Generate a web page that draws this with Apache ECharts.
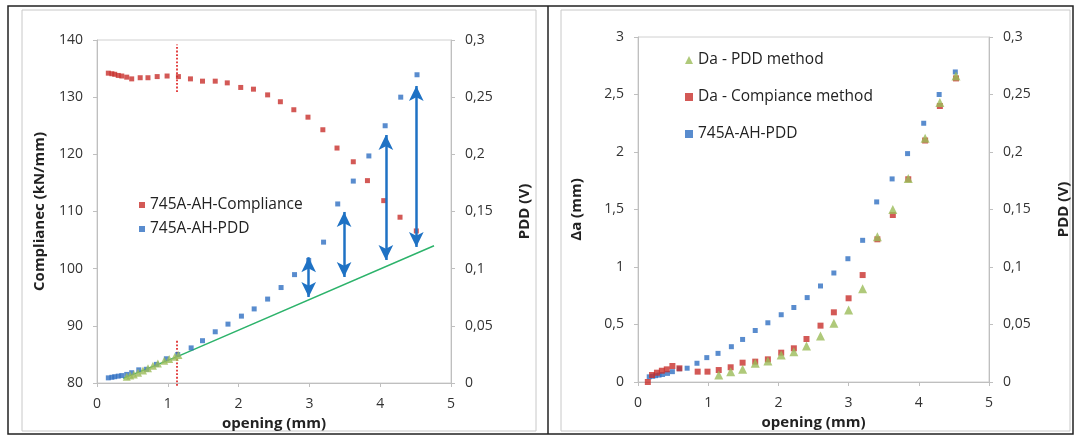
<!DOCTYPE html>
<html><head><meta charset="utf-8">
<script src="https://cdn.jsdelivr.net/npm/echarts@6/dist/echarts.min.js"></script>
<style>html,body{margin:0;padding:0;background:#fff}#c{width:1075px;height:436px}</style>
</head><body><div id="c"></div>
<script>
// ---- data (left chart) ----
const complX = [0.16,0.21,0.25,0.30,0.35,0.42,0.49,0.61,0.72,0.85,0.99,1.15,1.32,1.49,1.67,1.84,2.03,2.21,2.41,2.59,2.78,2.98,3.19,3.39,3.62,3.82,4.05,4.28,4.51];
const complY = [134.2,134.1,134.0,133.8,133.7,133.5,133.2,133.4,133.4,133.6,133.7,133.6,133.2,132.8,132.8,132.5,131.7,131.4,130.4,129.2,127.8,126.5,124.3,121.1,118.7,115.4,111.9,109.0,106.6];
// 745A-AH-PDD (shared by both charts, PDD in V)
const pddX = [0.16,0.21,0.25,0.30,0.35,0.42,0.49,0.59,0.70,0.84,0.98,1.14,1.33,1.49,1.67,1.85,2.04,2.22,2.41,2.60,2.79,2.99,3.20,3.40,3.62,3.84,4.07,4.29,4.52];
const pddY = [0.0045,0.005,0.0055,0.006,0.0065,0.0075,0.009,0.0115,0.012,0.0163,0.0212,0.0249,0.0307,0.037,0.0448,0.0515,0.0585,0.0648,0.0734,0.0835,0.0948,0.1072,0.1232,0.1566,0.1766,0.1986,0.225,0.25,0.2696];
const triLX = [0.42,0.47,0.52,0.58,0.65,0.72,0.79,0.86,0.95,1.02,1.10,1.15];
const triLY = [0.0055,0.0065,0.0075,0.009,0.011,0.013,0.015,0.017,0.0195,0.021,0.023,0.0245];
const fitX = [0.37,1.15,4.76];
const fitY = [0.004,0.0235,0.12];
const cutX = 1.13;
const cutUpper = [130.9,139.2];
const cutLower = [79.5,87.5];
const arrowX = [2.99,3.49,4.08,4.51];
const arrowTop = [0.110,0.1496,0.2169,0.2598];
const arrowBottom = [0.0752,0.0927,0.1076,0.119];
// ---- data (right chart) ----
const daPddX = [1.15,1.32,1.49,1.67,1.85,2.04,2.22,2.40,2.60,2.79,3.00,3.20,3.41,3.63,3.85,4.09,4.30,4.53];
const daPddY = [0.061,0.090,0.110,0.163,0.183,0.235,0.263,0.313,0.40,0.51,0.626,0.81,1.264,1.50,1.77,2.12,2.43,2.66];
const daCompX = [0.14,0.20,0.27,0.34,0.41,0.49,0.59,0.85,0.99,1.15,1.32,1.49,1.67,1.85,2.04,2.22,2.40,2.60,2.79,3.00,3.20,3.41,3.63,3.85,4.09,4.30,4.53];
const daCompY = [0.0,0.061,0.081,0.098,0.110,0.139,0.119,0.090,0.090,0.104,0.128,0.168,0.177,0.197,0.255,0.293,0.374,0.490,0.606,0.728,0.930,1.241,1.452,1.763,2.10,2.40,2.64];

const zip = (a,b) => a.map((v,i)=>[v,b[i]]);
const comma = v => String(+(+v).toFixed(3)).replace('.', ',');
const FONT = 'Open Sans';
const RED = '#c8302c', BLUE = '#2f6fc2', GREEN = '#9bbb59', ARROW = '#1f72c4', LINEG = '#2db36b';

const axisCommon = {
  axisLine:{show:true,lineStyle:{color:'#bfbfbf'}},
  axisTick:{show:true,inside:false,length:4,lineStyle:{color:'#bfbfbf'}},
  splitLine:{show:false},
  axisLabel:{color:'#333',fontFamily:FONT,fontSize:14,formatter:comma},
  nameTextStyle:{color:'#222',fontFamily:FONT,fontSize:15,fontWeight:'bold'}
};
function xa(grid){return Object.assign({},axisCommon,{type:'value',gridIndex:grid,min:0,max:5,interval:1,
  name:'opening (mm)',nameLocation:'middle',nameGap:33,axisLabel:Object.assign({},axisCommon.axisLabel,{margin:14})});}
function ya(grid,pos,min,max,intv,name,gap){return Object.assign({},axisCommon,{type:'value',gridIndex:grid,position:pos,min:min,max:max,interval:intv,
  name:name,nameLocation:'middle',nameGap:gap,nameRotate:90,axisLabel:Object.assign({},axisCommon.axisLabel,{margin:14})});}

const chart = echarts.init(document.getElementById('c'),null,{renderer:'canvas'});
chart.setOption({
  animation:false,
  backgroundColor:'#fff',
  graphic:[
    {type:'rect',shape:{x:8,y:6,width:1065,height:428},style:{fill:'none',stroke:'#222',lineWidth:1.5},z:-1},
    {type:'line',shape:{x1:548,y1:6,x2:548,y2:434},style:{stroke:'#222',lineWidth:1.5},z:-1},
    {type:'rect',shape:{x:22,y:10,width:514,height:421},style:{fill:'none',stroke:'#c8c8c8',lineWidth:1},z:-1},
    {type:'rect',shape:{x:561,y:10,width:509,height:421},style:{fill:'none',stroke:'#c8c8c8',lineWidth:1},z:-1}
  ],
  grid:[
    {left:97,right:624,top:40,bottom:53,show:true,borderColor:'#d0d0d0',borderWidth:1},
    {left:638,right:86,top:37,bottom:54,show:true,borderColor:'#d0d0d0',borderWidth:1}
  ],
  xAxis:[xa(0),xa(1)],
  yAxis:[
    ya(0,'left',80,140,10,'Complianec (kN/mm)',50),
    ya(0,'right',0,0.3,0.05,'PDD (V)',66),
    ya(1,'left',0,3,0.5,'Δa (mm)',54),
    ya(1,'right',0,0.3,0.05,'PDD (V)',67)
  ],
  legend:[
    {orient:'vertical',left:134,top:192,itemGap:8,itemWidth:6,itemHeight:6,icon:'rect',
     textStyle:{fontFamily:FONT,fontSize:15.5,color:'#222'},data:['745A-AH-Compliance','745A-AH-PDD'],selectedMode:false},
    {orient:'vertical',left:680,top:47,itemGap:21,itemWidth:8,itemHeight:8,
     textStyle:{fontFamily:FONT,fontSize:15.5,color:'#222'},
     data:[{name:'Da - PDD method',icon:'triangle'},{name:'Da - Compiance method',icon:'rect'},{name:'745A-AH-PDD ',icon:'rect'}],selectedMode:false}
  ],
  series:[
    {name:'fit',type:'line',xAxisIndex:0,yAxisIndex:1,data:zip(fitX,fitY),symbol:'none',lineStyle:{color:LINEG,width:1.5},z:2,
     markLine:{silent:true,symbol:['arrow','arrow'],symbolSize:[11,15],label:{show:false},
       lineStyle:{color:ARROW,width:2.5,type:'solid'},
       data:arrowX.map((x,i)=>[{coord:[x,arrowTop[i]]},{coord:[x,arrowBottom[i]]}])}},
    {name:'cut1',type:'line',xAxisIndex:0,yAxisIndex:0,data:[[cutX,cutUpper[0]],[cutX,cutUpper[1]]],symbol:'none',lineStyle:{color:'#e03030',width:1.8,type:'dotted'},z:1},
    {name:'cut2',type:'line',xAxisIndex:0,yAxisIndex:0,data:[[cutX,cutLower[0]],[cutX,cutLower[1]]],symbol:'none',clip:false,lineStyle:{color:'#e03030',width:1.8,type:'dotted'},z:1},
    {name:'745A-AH-Compliance',type:'scatter',xAxisIndex:0,yAxisIndex:0,data:zip(complX,complY),symbol:'rect',symbolSize:5,itemStyle:{color:RED},z:3},
    {name:'745A-AH-PDD',type:'scatter',xAxisIndex:0,yAxisIndex:1,data:zip(pddX,pddY),symbol:'rect',symbolSize:5,itemStyle:{color:BLUE},z:3},
    {name:'triL',type:'scatter',xAxisIndex:0,yAxisIndex:1,data:zip(triLX,triLY),symbol:'triangle',symbolSize:8,itemStyle:{color:GREEN},z:4},
    {name:'745A-AH-PDD ',type:'scatter',xAxisIndex:1,yAxisIndex:3,data:zip(pddX,pddY),symbol:'rect',symbolSize:5,itemStyle:{color:BLUE},z:3},
    {name:'Da - Compiance method',type:'scatter',xAxisIndex:1,yAxisIndex:2,data:zip(daCompX,daCompY),symbol:'rect',symbolSize:6,itemStyle:{color:RED},z:4},
    {name:'Da - PDD method',type:'scatter',xAxisIndex:1,yAxisIndex:2,data:zip(daPddX,daPddY),symbol:'triangle',symbolSize:9,itemStyle:{color:GREEN},z:5}
  ]
});
</script></body></html>
